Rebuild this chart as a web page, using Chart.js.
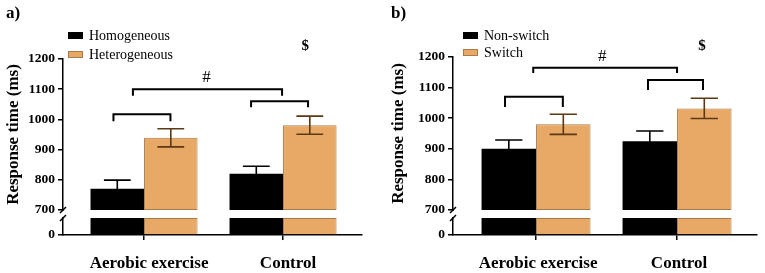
<!DOCTYPE html>
<html><head><meta charset="utf-8">
<script src="https://cdn.jsdelivr.net/npm/chart.js@4"></script>
<style>
html,body{margin:0;padding:0;background:#fff;}
#wrap{position:relative;width:765px;height:273px;overflow:hidden;}
canvas{position:absolute;top:0;}
</style>
</head><body>
<div id="wrap">
<canvas id="ca" width="380" height="273" style="left:0px"></canvas>
<canvas id="cb" width="380" height="273" style="left:385px"></canvas>
</div>
<script>
// ---------- data ----------
const categories = ['Aerobic exercise', 'Control'];
const yTickValues = [700, 800, 900, 1000, 1100, 1200];
const axisBreakAt = 700;

const seriesA = ['Homogeneous', 'Heterogeneous'];
const homogeneousMean = [770, 820];
const homogeneousSEM = [29, 25];
const heterogeneousMean = [939, 981];
const heterogeneousSEM = [30, 30];

const seriesB = ['Non-switch', 'Switch'];
const nonSwitchMean = [900, 925];
const nonSwitchSEM = [29, 33];
const switchMean = [980, 1032];
const switchSEM = [33, 33];

// significance brackets: x in category units, level / leg end in ms
const bracketsA = [
  {x0: -0.22, x1: 0.19, level: 1017, leg: 994},
  {x0: -0.08, x1: 0.993, level: 1100, leg: 1078},
  {x0: 0.77, x1: 1.18, level: 1060, leg: 1040}
];
const marksA = [{text: '#', x: 0.45, y: 1137, bold: false}, {text: '$', x: 1.16, y: 1243, bold: true}];
const bracketsB = [
  {x0: -0.22, x1: 0.19, level: 1070, leg: 1037},
  {x0: -0.02, x1: 1.0, level: 1165, leg: 1148},
  {x0: 0.794, x1: 1.184, level: 1125, leg: 1092}
];
const marksB = [{text: '#', x: 0.47, y: 1200, bold: false}, {text: '$', x: 1.177, y: 1236, bold: true}];

// ---------- style ----------
const SERIF = "'Liberation Serif','Times New Roman',serif";
const FILL = ['#000000', '#E8A966'];
const EDGE = ['#000000', '#A97B46'];
const ERRC = ['#000000', '#5A3913'];

function makePanel(id, cfg) {
  const datasets = [];
  cfg.means.forEach((m, s) => {
    datasets.push({
      label: cfg.series[s],
      data: m.map((v, i) => ({x: i, y: [axisBreakAt, v]})),
      yAxisID: 'yTop', stack: 's' + s,
      backgroundColor: FILL[s], borderColor: EDGE[s], borderWidth: s ? 1 : 0, borderSkipped: false
    });
  });
  cfg.means.forEach((m, s) => {
    datasets.push({
      label: cfg.series[s] + ' (0-' + axisBreakAt + ')',
      data: m.map((v, i) => ({x: i, y: axisBreakAt})),
      yAxisID: 'yBottom', stack: 's' + s,
      backgroundColor: FILL[s], borderColor: EDGE[s], borderWidth: s ? 1 : 0, borderSkipped: 'start'
    });
  });

  const gap = 8, bottomH = 25;
  const bottomMax = axisBreakAt * bottomH / (bottomH - gap);

  const yCommon = {
    type: 'linear', position: 'left', stack: 'y', stacked: false,
    grid: {display: true, drawOnChartArea: false, drawTicks: true, tickLength: 5, color: '#000', lineWidth: 1.5, offset: false},
    border: {display: true, color: '#000', width: 1.5},
    ticks: {color: '#000', padding: 3, autoSkip: false, font: {family: SERIF, size: 13.5, weight: 'bold'},
            callback: v => String(v)},
    afterFit: s => { s.width = cfg.axisLeft; }
  };

  const annot = {
    id: 'annot',
    afterDatasetsDraw(chart) {
      const ctx = chart.ctx, yT = chart.scales.yTop;
      ctx.save();
      cfg.means.forEach((m, s) => {
        const meta = chart.getDatasetMeta(s);
        meta.data.forEach((bar, i) => {
          const cap = bar.width / 4;
          const t = yT.getPixelForValue(m[i] + cfg.sems[s][i]);
          const b = yT.getPixelForValue(m[i] - cfg.sems[s][i]);
          ctx.strokeStyle = ERRC[s]; ctx.lineWidth = 1.6;
          ctx.beginPath();
          ctx.moveTo(bar.x, t); ctx.lineTo(bar.x, b);
          ctx.moveTo(bar.x - cap, t); ctx.lineTo(bar.x + cap, t);
          ctx.moveTo(bar.x - cap, b); ctx.lineTo(bar.x + cap, b);
          ctx.stroke();
        });
      });
      ctx.restore();
    },
    afterDraw(chart) {
      const ctx = chart.ctx, yT = chart.scales.yTop, yB = chart.scales.yBottom, xs = chart.scales.x;
      const ca = chart.chartArea;
      ctx.save();
      // brackets
      ctx.strokeStyle = '#000'; ctx.lineWidth = 2; ctx.lineJoin = 'miter';
      cfg.brackets.forEach(b => {
        const x0 = xs.getPixelForValue(b.x0), x1 = xs.getPixelForValue(b.x1);
        const yl = yT.getPixelForValue(b.level), yg = yT.getPixelForValue(b.leg);
        ctx.beginPath();
        ctx.moveTo(x0, yg); ctx.lineTo(x0, yl); ctx.lineTo(x1, yl); ctx.lineTo(x1, yg);
        ctx.stroke();
      });
      // marks
      ctx.fillStyle = '#000'; ctx.textAlign = 'center'; ctx.textBaseline = 'middle';
      cfg.marks.forEach(mk => {
        ctx.font = (mk.bold ? 'bold 15px ' : '17px ') + SERIF;
        ctx.fillText(mk.text, xs.getPixelForValue(mk.x), yT.getPixelForValue(mk.y));
      });
      // axis break
      const yTopEnd = yT.bottom, yBotStart = yB.getPixelForValue(axisBreakAt);
      const ax = ca.left;
      ctx.fillStyle = '#fff';
      ctx.fillRect(ax - 2, yTopEnd + 1, 4, yBotStart - yTopEnd - 2);
      ctx.strokeStyle = '#000'; ctx.lineWidth = 1.5;
      ctx.beginPath();
      ctx.moveTo(ax - 3, yTopEnd + 3); ctx.lineTo(ax + 3, yTopEnd - 3);
      ctx.moveTo(ax - 3, yBotStart + 3); ctx.lineTo(ax + 3, yBotStart - 3);
      ctx.stroke();
      // legend
      ctx.textAlign = 'left'; ctx.textBaseline = 'middle';
      ctx.font = '14px ' + SERIF;
      cfg.series.forEach((name, s) => {
        const yy = cfg.legendY + s * cfg.legendGap;
        ctx.fillStyle = FILL[s];
        ctx.fillRect(cfg.legendX, yy - 3, 15, 7);
        if (s) { ctx.strokeStyle = EDGE[s]; ctx.lineWidth = 1; ctx.strokeRect(cfg.legendX + 0.5, yy - 2.5, 14, 6); }
        ctx.fillStyle = '#000';
        ctx.fillText(name, cfg.legendX + 21, yy + 1);
      });
      // panel label
      ctx.font = 'bold 17px ' + SERIF;
      ctx.fillText(cfg.panel, 6, 14);
      ctx.restore();
    }
  };

  return new Chart(document.getElementById(id), {
    type: 'bar',
    data: {datasets},
    options: {
      responsive: false, animation: false, devicePixelRatio: 1,
      categoryPercentage: cfg.catPct, barPercentage: 1,
      layout: {padding: {top: cfg.padTop, right: cfg.padRight, left: 0, bottom: 0}},
      plugins: {legend: {display: false}, tooltip: {enabled: false}},
      scales: {
        x: {
          type: 'linear', min: cfg.xMin, max: cfg.xMax, offset: false,
          afterBuildTicks: s => { s.ticks = categories.map((c, i) => ({value: i})); },
          ticks: {color: '#000', padding: 13, labelOffset: cfg.labelShift, maxRotation: 0, autoSkip: false,
                  font: {family: SERIF, size: 17, weight: 'bold'},
                  callback: v => categories[Math.round(v)]},
          grid: {display: true, offset: false, drawOnChartArea: false, drawTicks: true, tickLength: 5, color: '#000', lineWidth: 1.5},
          border: {display: true, color: '#000', width: 1.5},
          afterFit: s => { s.height = 38; }
        },
        yBottom: Object.assign({}, yCommon, {
          stackWeight: bottomH, weight: 0, min: 0, max: bottomMax,
          afterBuildTicks: s => { s.ticks = [{value: 0}]; }
        }),
        yTop: Object.assign({}, yCommon, {
          stackWeight: cfg.topH, weight: 1, min: yTickValues[0], max: yTickValues[yTickValues.length - 1],
          afterBuildTicks: s => { s.ticks = yTickValues.map(v => ({value: v})); },
          title: {display: true, text: 'Response time (ms)', color: '#000', padding: {top: 3, bottom: 0},
                  font: {family: SERIF, size: 17, weight: 'bold'}}
        })
      }
    },
    plugins: [annot]
  });
}

makePanel('ca', {
  panel: 'a)', series: seriesA,
  means: [homogeneousMean, heterogeneousMean], sems: [homogeneousSEM, heterogeneousSEM],
  brackets: bracketsA, marks: marksA,
  axisLeft: 63, padTop: 59, padRight: 18, topH: 151, xMin: -0.583, xMax: 1.568, catPct: 0.77,
  labelShift: 5, legendX: 68, legendY: 35, legendGap: 19
});
makePanel('cb', {
  panel: 'b)', series: seriesB,
  means: [nonSwitchMean, switchMean], sems: [nonSwitchSEM, switchSEM],
  brackets: bracketsB, marks: marksB,
  axisLeft: 68, padTop: 57, padRight: 8, topH: 153, xMin: -0.589, xMax: 1.567, catPct: 0.773,
  labelShift: 2, legendX: 78, legendY: 35, legendGap: 17
});
</script>
</body></html>
